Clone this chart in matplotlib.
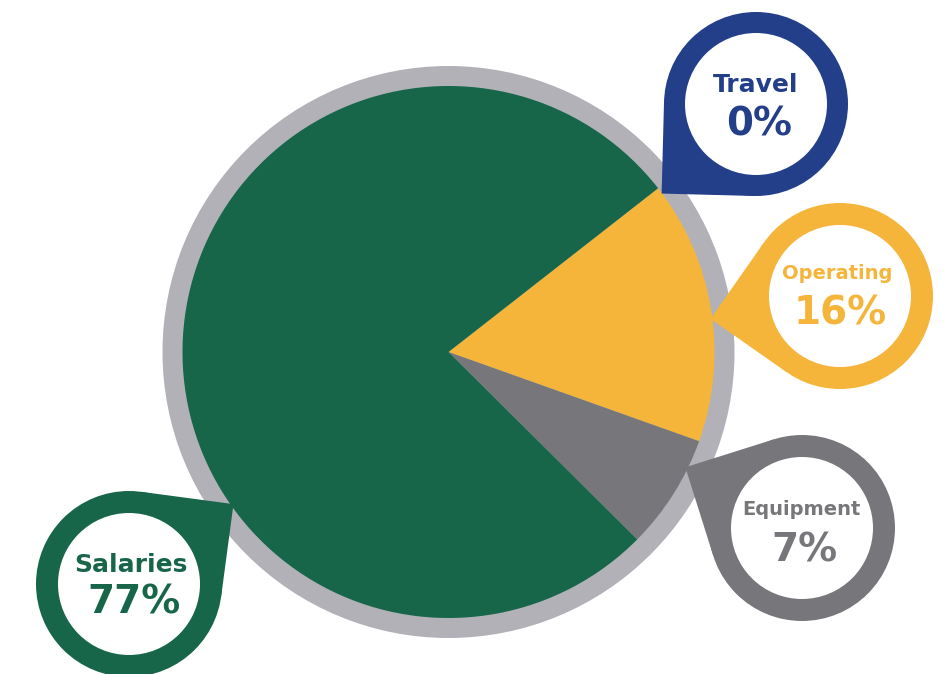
import numpy as np
import matplotlib.pyplot as plt
from matplotlib.patches import Circle, Polygon

# budget shares (percent)
categories = ['Operating', 'Equipment', 'Salaries', 'Travel']
shares = [16, 7, 77, 0]
slice_colors = ['#f4b53a', '#77777b', '#17664a', '#243f8a']

# callout labels
label_names = ['Travel', 'Operating', 'Equipment', 'Salaries']
label_values = [0, 16, 7, 77]
label_colors = ['#243f8a', '#f4b53a', '#77777b', '#17664a']

W, H = 945, 674

fig = plt.figure(figsize=(W / 100, H / 100), dpi=100)
ax = fig.add_axes([0, 0, 1, 1])
ax.set_xlim(0, W)
ax.set_ylim(0, H)
ax.set_aspect('equal')
ax.axis('off')

cx, cy = 448.5, H - 352

# grey rim behind the pie
ax.add_patch(Circle((cx, cy), 286, color='#b1b1b7', zorder=1, lw=0))

wedges, _ = ax.pie(shares, colors=slice_colors, startangle=38, counterclock=False,
                   center=(cx, cy), radius=266, frame=True,
                   wedgeprops=dict(linewidth=0))
for w in wedges:
    w.set_zorder(2)
ax.set_xlim(0, W)
ax.set_ylim(0, H)
ax.axis('off')

# callout bubbles: centre (px from top-left), outer radius, inner radius, tail direction
bubbles = {
    'Travel':    ((756, 104), 92, 71, 223.5),
    'Operating': ((840, 296), 93, 71, 190),
    'Equipment': ((802, 528), 93, 71, 152.5),
    'Salaries':  ((129, 584), 93, 71, 37.4),
}
# text: x, baselines (px from top) for name and value, font sizes
text_pos = {
    'Travel':    (756, 92, 136, 18, 28),
    'Operating': (837, 279, 325, 14, 28),
    'Equipment': (801, 515, 562, 14, 28),
    'Salaries':  (131, 572, 614, 18, 28),
}

for name, val, col in zip(label_names, label_values, label_colors):
    (bx, by), ro, ri, ang = bubbles[name]
    by = H - by
    a = np.radians(ang)
    corner = (bx + ro * np.sqrt(2) * np.cos(a), by + ro * np.sqrt(2) * np.sin(a))
    t1 = (bx + ro * np.cos(a + np.pi / 4), by + ro * np.sin(a + np.pi / 4))
    t2 = (bx + ro * np.cos(a - np.pi / 4), by + ro * np.sin(a - np.pi / 4))
    ax.add_patch(Polygon([(bx, by), t1, corner, t2], closed=True, color=col, lw=0, zorder=3))
    ax.add_patch(Circle((bx, by), ro, color=col, lw=0, zorder=3))
    ax.add_patch(Circle((bx, by), ri, color='white', lw=0, zorder=4))

    tx, y1, y2, s1, s2 = text_pos[name]
    ax.text(tx, H - y1, name, ha='center', va='baseline', fontsize=s1,
            fontweight='bold', color=col, family='DejaVu Sans', zorder=5)
    ax.text(tx + 3, H - y2, f'{val}%', ha='center', va='baseline', fontsize=s2,
            fontweight='bold', color=col, family='DejaVu Sans', zorder=5)

fig.savefig('out.png', dpi=100, facecolor='white')
